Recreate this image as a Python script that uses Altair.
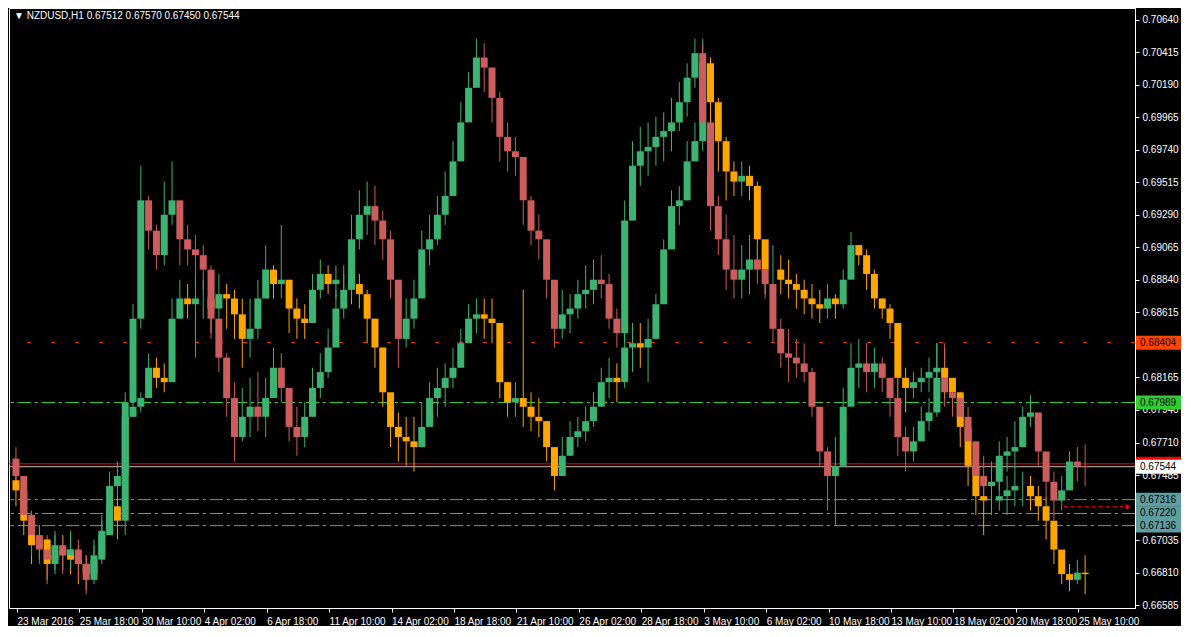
import json
import altair as alt
import pandas as pd

# ---------------- data ----------------
# candle positions: hour index on the chart, one aggregated candle per 8 hours
STEP = 8
N = 138
hours = [2 + STEP * k for k in range(N)]

# x-axis tick labels, one every 64 hours (starting at hour 3)
tick_labels = ["23 Mar 2016", "25 Mar 18:00", "30 Mar 10:00", "4 Apr 02:00", "6 Apr 18:00",
               "11 Apr 10:00", "14 Apr 02:00", "18 Apr 18:00", "21 Apr 10:00", "26 Apr 02:00",
               "28 Apr 18:00", "3 May 10:00", "6 May 02:00", "10 May 18:00", "13 May 10:00",
               "18 May 02:00", "20 May 18:00", "25 May 10:00"]
tick_hours = [3 + 64 * i for i in range(len(tick_labels))]

# price scale labels (0.67260 and 0.68390 sit fully under the level boxes)
price_ticks = [0.66585, 0.66810, 0.67035, 0.67485, 0.67710, 0.67940, 0.68165,
               0.68615, 0.68840, 0.69065, 0.69290, 0.69515, 0.69740, 0.69965, 0.70190, 0.70415, 0.70640]

# Series A (NZDUSD, green / red)
A_first_open = 0.6760
A_high = [.6768,.6738,.6724,.6714,.6707,.6710,.6707,.6710,.6704,.6693,
          .6700,.6717,.6751,.6758,.6806,.6867,.6963,.6942,.6922,.6952,
          .6966,.6932,.6922,.6915,.6908,.6894,.6857,.6833,.6813,.6809,
          .6816,.6820,.6816,.6837,.6833,.6809,.6796,.6799,.6823,.6833,
          .6850,.6877,.6888,.6929,.6946,.6952,.6949,.6932,.6918,.6877,
          .6871,.6884,.6918,.6929,.6942,.6959,.6980,.7007,.7028,.7051,
          .7048,.7031,.7014,.6993,.6983,.6966,.6942,.6929,.6908,.6871,
          .6877,.6874,.6884,.6894,.6898,.6901,.6888,.6864,.6939,.6980,
          .6990,.6993,.6997,.7000,.7010,.7021,.7034,.7051,.7048,.6973,
          .6942,.6929,.6915,.6908,.6915,.6908,.6898,.6871,.6857,.6850,
          .6843,.6840,.6823,.6789,.6768,.6775,.6809,.6840,.6843,.6840,
          .6837,.6830,.6816,.6802,.6782,.6782,.6796,.6802,.6840,.6840,
          .6816,.6806,.6796,.6765,.6762,.6758,.6772,.6775,.6786,.6796,
          .6804,.6789,.6762,.6751,.6748,.6765,.6768,.6770]
A_low = [.6738,.6714,.6693,.6687,.6673,.6683,.6680,.6683,.6676,.6666,
         .6673,.6687,.6714,.6734,.6741,.6802,.6850,.6905,.6891,.6894,
         .6922,.6894,.6894,.6888,.6877,.6843,.6820,.6789,.6758,.6772,
         .6775,.6779,.6775,.6802,.6799,.6772,.6762,.6768,.6789,.6802,
         .6816,.6843,.6857,.6871,.6905,.6915,.6908,.6898,.6871,.6823,
         .6837,.6850,.6877,.6894,.6908,.6922,.6949,.6973,.6997,.7021,
         .7014,.6993,.6966,.6959,.6956,.6922,.6908,.6898,.6871,.6837,
         .6843,.6847,.6857,.6864,.6867,.6871,.6850,.6837,.6840,.6929,
         .6949,.6956,.6963,.6966,.6973,.6987,.6997,.7017,.6980,.6918,
         .6901,.6877,.6871,.6871,.6874,.6881,.6871,.6840,.6823,.6813,
         .6816,.6813,.6789,.6755,.6724,.6714,.6768,.6802,.6809,.6806,
         .6809,.6806,.6789,.6762,.6751,.6758,.6775,.6779,.6789,.6796,
         .6789,.6775,.6762,.6734,.6727,.6724,.6738,.6751,.6755,.6768,
         .6782,.6755,.6734,.6717,.6724,.6741,.6744,.6741]
A_close = [.6748,.6721,.6707,.6697,.6690,.6700,.6693,.6697,.6687,.6676,
           .6690,.6707,.6741,.6748,.6799,.6857,.6939,.6918,.6901,.6929,
           .6939,.6912,.6905,.6901,.6891,.6857,.6830,.6802,.6775,.6789,
           .6796,.6789,.6802,.6823,.6809,.6782,.6775,.6789,.6809,.6820,
           .6837,.6864,.6877,.6912,.6929,.6935,.6925,.6912,.6884,.6843,
           .6857,.6871,.6905,.6912,.6929,.6942,.6966,.6993,.7017,.7038,
           .7031,.7010,.6983,.6973,.6969,.6939,.6918,.6912,.6884,.6850,
           .6860,.6864,.6874,.6877,.6884,.6881,.6857,.6847,.6925,.6963,
           .6973,.6976,.6983,.6987,.6993,.7007,.7024,.7041,.6993,.6935,
           .6912,.6891,.6884,.6891,.6898,.6891,.6881,.6850,.6833,.6830,
           .6826,.6820,.6796,.6765,.6748,.6755,.6796,.6823,.6826,.6820,
           .6826,.6816,.6802,.6775,.6765,.6772,.6786,.6792,.6816,.6806,
           .6802,.6789,.6772,.6748,.6741,.6744,.6762,.6765,.6768,.6789,
           .6792,.6765,.6744,.6731,.6738,.6758,.6755,.67544]

# Series B (overlay, green / orange)
B_first_open = 0.6745
B_high = [.6755,.6734,.6717,.6714,.6704,.6707,.6707,.6704,.6700,.6693,
          .6704,.6721,.6738,.6734,.6799,.6802,.6806,.6833,.6830,.6826,
          .6871,.6884,.6881,.6888,.6884,.6881,.6888,.6881,.6877,.6871,
          .6871,.6884,.6908,.6894,.6922,.6874,.6871,.6867,.6888,.6898,
          .6894,.6894,.6894,.6891,.6888,.6877,.6857,.6837,.6802,.6792,
          .6789,.6789,.6799,.6813,.6823,.6826,.6837,.6850,.6867,.6871,
          .6871,.6871,.6843,.6813,.6813,.6877,.6806,.6802,.6786,.6765,
          .6775,.6786,.6789,.6796,.6806,.6823,.6830,.6826,.6847,.6854,
          .6854,.6857,.6874,.6912,.6946,.6949,.6980,.6993,.7051,.7038,
          .7010,.6983,.6966,.6966,.6963,.6952,.6901,.6908,.6901,.6898,
          .6888,.6884,.6881,.6877,.6881,.6874,.6891,.6917,.6908,.6905,
          .6891,.6871,.6867,.6843,.6823,.6820,.6823,.6830,.6840,.6837,
          .6816,.6802,.6775,.6748,.6741,.6741,.6744,.6748,.6755,.6751,
          .6748,.6741,.6734,.6714,.6693,.6687,.6690,.6693]
B_low = [.6727,.6707,.6687,.6690,.6676,.6680,.6683,.6680,.6673,.6669,
         .6680,.6693,.6714,.6704,.6707,.6789,.6792,.6809,.6809,.6806,
         .6830,.6857,.6857,.6830,.6857,.6847,.6857,.6850,.6843,.6823,
         .6830,.6843,.6874,.6871,.6871,.6847,.6843,.6843,.6857,.6871,
         .6874,.6871,.6874,.6867,.6864,.6840,.6823,.6796,.6768,.6758,
         .6755,.6751,.6768,.6782,.6789,.6796,.6809,.6823,.6847,.6847,
         .6843,.6840,.6802,.6789,.6789,.6782,.6779,.6775,.6758,.6738,
         .6748,.6762,.6768,.6772,.6782,.6796,.6802,.6799,.6809,.6820,
         .6823,.6813,.6850,.6871,.6912,.6922,.6939,.6966,.6973,.6987,
         .6959,.6939,.6942,.6942,.6939,.6898,.6874,.6877,.6874,.6871,
         .6864,.6860,.6857,.6854,.6857,.6857,.6864,.6891,.6894,.6877,
         .6864,.6857,.6843,.6802,.6792,.6802,.6806,.6806,.6806,.6802,
         .6796,.6768,.6741,.6721,.6707,.6721,.6724,.6721,.6727,.6727,
         .6724,.6717,.6704,.6687,.6673,.6668,.6673,.6666]
B_close = [.6738,.6717,.6700,.6704,.6687,.6693,.6697,.6690,.6687,.6680,
           .6693,.6710,.6727,.6717,.6789,.6796,.6802,.6823,.6816,.6813,
           .6857,.6871,.6867,.6871,.6871,.6864,.6874,.6871,.6860,.6843,
           .6850,.6871,.6891,.6881,.6884,.6864,.6857,.6854,.6877,.6888,
           .6881,.6884,.6884,.6881,.6874,.6857,.6837,.6806,.6782,.6775,
           .6772,.6768,.6782,.6802,.6809,.6816,.6823,.6840,.6857,.6860,
           .6857,.6854,.6813,.6799,.6802,.6796,.6789,.6786,.6768,.6748,
           .6762,.6775,.6779,.6786,.6796,.6813,.6816,.6813,.6837,.6840,
           .6837,.6843,.6867,.6905,.6935,.6939,.6966,.6980,.7034,.7007,
           .6980,.6959,.6952,.6956,.6949,.6912,.6891,.6891,.6884,.6881,
           .6877,.6871,.6867,.6864,.6871,.6867,.6884,.6908,.6901,.6888,
           .6871,.6864,.6854,.6816,.6809,.6813,.6816,.6820,.6823,.6816,
           .6806,.6782,.6755,.6734,.6731,.6731,.6734,.6738,.6741,.6741,
           .6734,.6727,.6717,.6697,.6680,.6676,.6681,.6680]

# horizontal levels and their price boxes
level_prices = [0.68404, 0.67989, 0.67564, 0.67544, 0.67316, 0.67220, 0.67136]
level_texts = ["0.68404", "0.67989", "", "0.67544", "0.67316", "0.67220", "0.67136"]
level_fills = ["#FF4500", "#32CD32", "#FF0000", "#FFFFFF", "#5F9EA0", "#5F9EA0", "#5F9EA0"]
order_price = 0.67267
order_span = [1076, 1142]

title_text = "\u25BC NZDUSD,H1  0.67512 0.67570 0.67450 0.67544"

# ---------------- chart ----------------
W, H = 1126, 600
FONT = "Liberation Sans"
GREEN, RED, ORANGE = "#3CB371", "#CD5C5C", "#FFA500"

rows = []
for name, fo, hi, lo, cl in [("B", B_first_open, B_high, B_low, B_close),
                             ("A", A_first_open, A_high, A_low, A_close)]:
    opens = [fo] + cl[:-1]
    for i in range(N):
        kind = name + ("_up" if cl[i] >= opens[i] else "_down")
        rows.append({"h": hours[i], "open": opens[i], "high": hi[i], "low": lo[i],
                     "close": cl[i], "kind": kind, "series": name,
                     "ord": (0 if name == "B" else 1) * 1000 + i})
df = pd.DataFrame(rows)

xscale = alt.Scale(domain=[0, 1144], nice=False, zero=False)
yscale = alt.Scale(domain=[0.66565, 0.70723], nice=False, zero=False)
color = alt.Color("kind:N", legend=None,
                  scale=alt.Scale(domain=["A_up", "A_down", "B_up", "B_down"],
                                  range=[GREEN, RED, GREEN, ORANGE]))

label_expr = f"{json.dumps(tick_labels)}[round((datum.value - 3) / 64)]"
xaxis = alt.Axis(values=tick_hours, labelExpr=label_expr, labelAlign="left", labelPadding=4,
                 labelColor="white", tickColor="white", domainColor="white", tickSize=4,
                 labelFont=FONT, labelFontSize=10, labelOverlap=False, labelFlush=False,
                 grid=False, title=None)
yaxis = alt.Axis(values=price_ticks, format=".5f", orient="right", labelAlign="left",
                 labelColor="white", tickColor="white", domainColor="white", tickSize=4,
                 labelPadding=3, labelFont=FONT, labelFontSize=10, labelOverlap=False,
                 labelFlush=False, grid=False, title=None)

base = alt.Chart(df)
wicks = base.mark_rule(strokeWidth=1, clip=True).encode(
    x=alt.X("h:Q", scale=xscale, axis=xaxis),
    y=alt.Y("low:Q", scale=yscale, axis=yaxis),
    y2="high:Q",
    color=color,
    order="ord:Q",
)
bodies = base.mark_bar(size=7, clip=True).encode(
    x=alt.X("h:Q", scale=xscale, axis=xaxis),
    y=alt.Y("open:Q", scale=yscale, axis=yaxis),
    y2="close:Q",
    color=color,
    order="ord:Q",
)

lev = pd.DataFrame({"price": level_prices, "text": level_texts, "fill": level_fills})
lev_text = lev[lev["text"] != ""]


def hline(price, col, dash=None, width=1):
    kw = dict(color=col, strokeWidth=width)
    if dash:
        kw["strokeDash"] = dash
    return alt.Chart(pd.DataFrame({"price": [price]})).mark_rule(**kw).encode(
        y=alt.Y("price:Q", scale=yscale, axis=yaxis))


lines = [
    hline(0.68404, "#FF4500", [4, 20]),
    hline(0.67989, "#32CD32", [13, 4, 3, 4]),
    hline(0.67316, "#5F9EA0", [13, 4, 3, 4]),
    hline(0.67220, "#5F9EA0", [13, 4, 3, 4]),
    hline(0.67136, "#5F9EA0", [13, 4, 3, 4]),
    hline(0.67564, "#FF0000"),
    hline(0.67544, "#BEBEBE"),
]

order_df = pd.DataFrame({"price": [order_price], "h0": [order_span[0]], "h1": [order_span[1]]})
order_line = alt.Chart(order_df).mark_rule(color="#FF0000", strokeDash=[4, 3]).encode(
    x=alt.X("h0:Q", scale=xscale, axis=xaxis), x2="h1:Q",
    y=alt.Y("price:Q", scale=yscale, axis=yaxis))
order_arrow = alt.Chart(order_df).mark_point(shape="triangle-right", filled=True, size=30,
                                             color="#FF0000", opacity=1).encode(
    x=alt.X("h1:Q", scale=xscale, axis=xaxis),
    y=alt.Y("price:Q", scale=yscale, axis=yaxis))

boxes = alt.Chart(lev).mark_rect(yOffset=-7, y2Offset=7, clip=False).encode(
    x=alt.value(W + 1), x2=alt.value(W + 46),
    y=alt.Y("price:Q", scale=yscale, axis=yaxis), y2="price:Q",
    fill=alt.Fill("fill:N", scale=None),
)
box_text = alt.Chart(lev_text).mark_text(align="left", baseline="middle", font=FONT, fontSize=10,
                                         color="#000000", clip=False).encode(
    x=alt.value(W + 5),
    y=alt.Y("price:Q", scale=yscale, axis=yaxis),
    text="text:N",
)

title = alt.Chart(pd.DataFrame({"t": [title_text]})).mark_text(
    align="left", baseline="middle", font=FONT, fontSize=10, color="white").encode(
    x=alt.value(5), y=alt.value(8), text="t:N")

chart = alt.layer(*lines, order_line, order_arrow, wicks, bodies, boxes, box_text, title).properties(
    width=W, height=H, background="#000000", padding=0,
).configure_view(fill="#000000", stroke="white", strokeWidth=1)

chart.save("out.html", embed_options={"renderer": "svg", "actions": False})
